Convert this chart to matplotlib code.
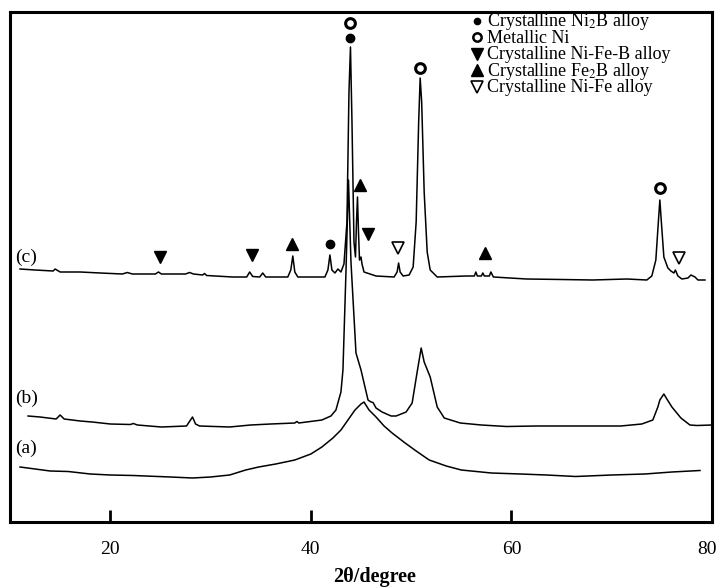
import numpy as np
import matplotlib.pyplot as plt

plt.rcParams['font.family'] = ['Liberation Serif', 'DejaVu Serif']
plt.rcParams['mathtext.fontset'] = 'stix'

# --- datos (2theta en grados, intensidad en u.a.) ---
tt_c = [11.0, 12.5, 14.3, 14.5, 15.0, 17.0, 19.0, 21.2, 21.7, 22.2, 24.5, 24.8, 25.1,
        27.5, 27.9, 28.3, 29.2, 29.4, 29.6, 32.2, 33.6, 33.9, 34.2, 34.9, 35.2, 35.5,
        37.7, 38.0, 38.2, 38.4, 38.7, 41.4, 41.7, 41.9, 42.1, 42.4, 42.7, 43.0, 43.3,
        43.6, 43.8, 43.95, 44.1, 44.3, 44.45, 44.55, 44.65, 44.75, 44.85, 45.0, 45.1,
        45.3, 45.6, 46.5, 48.3, 48.6, 48.75, 48.9, 49.2, 49.8, 50.2, 50.5, 50.75, 50.9,
        51.05, 51.3, 51.6, 51.9, 52.6, 55.5, 56.3, 56.45, 56.6, 57.0, 57.15, 57.3, 57.8,
        57.95, 58.2, 61.5, 65.0, 68.1, 71.5, 73.5, 74.0, 74.4, 74.65, 74.8, 74.95, 75.2,
        75.6, 75.9, 76.2, 76.35, 76.6, 77.0, 77.6, 77.9, 78.3, 78.6, 79.3]
int_c = [253, 252, 251, 253, 250, 250, 249, 248, 249.5, 248, 248, 250, 248,
         248, 249.5, 248, 247, 248.5, 246.5, 245, 245, 250, 245.5, 245, 249, 245,
         245, 252, 266, 250, 245, 245, 252, 267, 252, 249, 253, 250, 258,
         300, 430, 475, 400, 280, 265, 300, 325, 290, 262, 265, 258,
         250, 249, 246, 245, 250, 259, 250, 246, 247, 255, 300, 400, 444,
         420, 330, 270, 252, 245, 246, 246, 250, 246, 246, 249, 246, 246,
         250, 245, 243, 242.5, 242, 243, 242, 246, 262, 300, 322, 300, 265,
         254, 251, 249, 252, 246, 243, 244, 247, 245, 242, 242]

tt_b = [11.8, 13.0, 14.6, 15.0, 15.4, 17.0, 18.2, 20.0, 22.0, 22.3, 22.7, 25.1, 27.6,
        28.0, 28.2, 28.5, 28.9, 31.9, 34.0, 36.0, 38.4, 38.6, 38.8, 41.1, 42.0, 42.5,
        43.0, 43.2, 43.5, 43.75, 44.0, 44.5, 45.0, 45.7, 46.0, 46.2, 46.5, 47.1, 48.0,
        48.5, 49.5, 50.1, 50.6, 51.0, 51.3, 51.9, 52.6, 53.3, 54.9, 57.0, 59.5, 62.5,
        65.4, 68.0, 70.9, 73.0, 74.1, 74.6, 74.8, 75.2, 75.5, 76.0, 76.9, 77.8, 78.5, 80.0]
int_b = [106, 105, 103, 107, 103, 101, 100, 98, 97.5, 98.5, 97, 95, 96,
         102, 105, 98, 96, 95, 97, 98, 99, 100.5, 99, 102, 106, 112,
         130, 152, 250, 342, 260, 169, 152, 122, 120, 119.5, 114, 110, 106,
         106, 110, 119, 150, 174, 160, 145, 115, 104, 99, 97, 95.5, 96,
         96, 96, 96, 98, 102, 115, 122, 128, 123, 115, 104, 97, 96.5, 97]

tt_a = [11.0, 12.5, 14.0, 15.8, 18.0, 20.0, 22.3, 23.5, 26.0, 28.2, 30.0, 31.9, 33.5,
        34.8, 36.5, 38.4, 40.0, 41.1, 42.2, 43.0, 43.7, 44.4, 45.0, 45.3, 45.8, 46.5,
        47.3, 48.1, 49.4, 50.5, 51.8, 53.5, 55.0, 58.0, 60.9, 63.5, 66.4, 70.0, 73.3,
        76.0, 78.8]
int_a = [55, 53, 51, 50.5, 48, 47, 46.5, 46, 45, 44, 45, 47, 52,
         55, 58, 62, 68, 75, 84, 92, 102, 112, 118, 120, 112, 105,
         96, 89, 79, 71, 62, 56, 52, 49, 48, 47, 45.5, 47, 48,
         50, 51.5]

# posiciones de los simbolos de fase (grados, altura)
ni2b = [(41.9, 278), (43.9, 484)]
ni_met = [(43.9, 499), (50.9, 454), (74.8, 334)]
nifeb = [(25.0, 265), (34.1, 267), (45.7, 288)]
fe2b = [(38.1, 278), (44.9, 337), (57.4, 269)]
nife = [(48.7, 274), (76.7, 264)]

leyenda = ['Crystalline Ni$_2$B alloy', 'Metallic Ni', 'Crystalline Ni-Fe-B alloy',
           'Crystalline Fe$_2$B alloy', 'Crystalline Ni-Fe alloy']
xticks = [20, 40, 60, 80]

fig = plt.figure(figsize=(7.18, 5.87), dpi=100)
ax = fig.add_axes([10/718, 65/587, 702/718, 510/587])

for tt, I in [(tt_c, int_c), (tt_b, int_b), (tt_a, int_a)]:
    ax.plot(tt, I, color='black', lw=1.1)

estilos = [dict(marker='o', ms=6),
           dict(marker='o', ms=7, mfc='white', mew=2.2),
           dict(marker='v', ms=9),
           dict(marker='^', ms=9),
           dict(marker='v', ms=9, mfc='white', mew=1.2)]

for pts, st in zip([ni2b, ni_met, nifeb, fe2b, nife], estilos):
    x, y = zip(*pts)
    ax.plot(x, y, ls='none', color='black', **st)

ax.text(10.5, 265, '(c)', fontsize=14, va='center')
ax.text(10.5, 124, '(b)', fontsize=14, va='center')
ax.text(10.5, 74, '(a)', fontsize=14, va='center')

# leyenda a mano (filas muy juntas como en el original)
base_y = [26.5, 42.9, 59.3, 75.7, 92.1]
tam_ley = [4.5, 6, 8, 8, 8]
for lab, st, yp, ms in zip(leyenda, estilos, base_y, tam_ley):
    st = dict(st, ms=ms)
    if 'mew' in st:
        st['mew'] = min(st['mew'], 1.8)
    fig.lines.append(plt.Line2D([477/718], [(587 - yp + 5.5)/587], ls='none',
                                color='black', transform=fig.transFigure, **st))
    fig.text(487/718, (587 - yp)/587, lab, fontsize=13, va='baseline', ha='left')

ax.set_xlim(10, 80)
ax.set_ylim(0, 510)
ax.set_xticks(xticks)
ax.set_xticklabels([str(t) for t in xticks[:-1]] + [''])
ax.set_yticks([])
ax.tick_params(axis='x', direction='in', length=9, width=2, labelsize=14, pad=14)
for s in ax.spines.values():
    s.set_linewidth(2.2)
fig.text(707/718, (587 - 549)/587, str(xticks[-1]), fontsize=14, ha='center', va='center')
fig.text(375/718, (587 - 577)/587, '2θ/degree', fontsize=14.5, fontweight='bold',
         ha='center', va='center')

fig.savefig('out.png', dpi=100)
